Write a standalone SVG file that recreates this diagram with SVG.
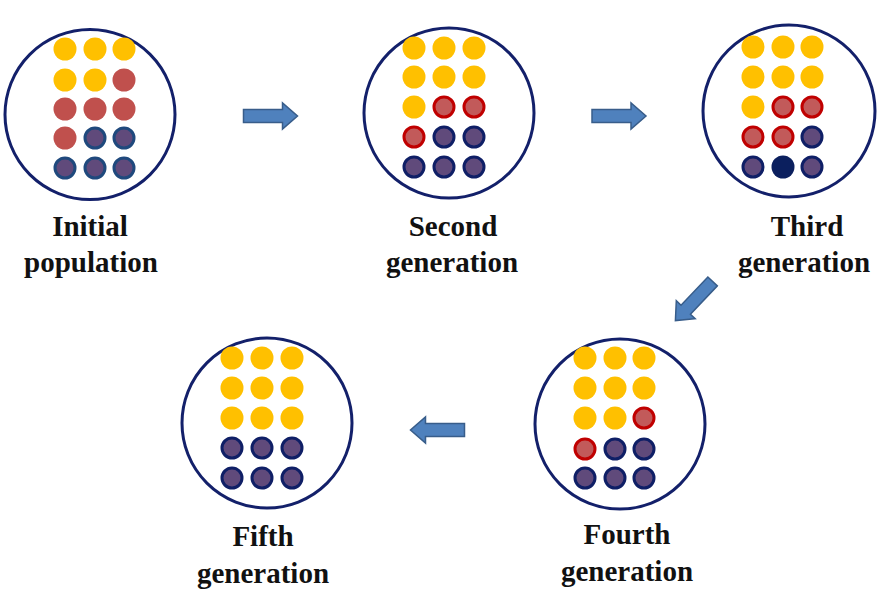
<svg xmlns="http://www.w3.org/2000/svg" width="880" height="601" viewBox="0 0 880 601">
<defs>
<style>
.ring{fill:#fff;stroke:#13206a;stroke-width:3}
.y{fill:#FFC000}
.r1{fill:#C0504D}
.b1{fill:#604A7B;stroke:#1F497D;stroke-width:3}
.r{fill:#C25A5A;stroke:#C00000;stroke-width:3}
.b{fill:#604A7B;stroke:#0F1F66;stroke-width:3}
.n{fill:#0B1F5E}
.lbl{font-family:"Liberation Serif","Times New Roman",serif;font-weight:bold;font-size:29px;fill:#111;text-anchor:middle}
.arr{fill:#4F81BD;stroke:#385D8A;stroke-width:1.5}
</style>
<path id="a" d="M-27,-6.5 H12 V-13 L27,0 L12,13 V6.5 H-27 Z"/>
</defs>
<rect width="880" height="601" fill="#fff"/>
<g id="connectors">
<use href="#a" class="arr" transform="translate(270.5,116)"/>
<use href="#a" class="arr" transform="translate(619,116)"/>
<use href="#a" class="arr" transform="translate(694,301) rotate(133.5)"/>
<use href="#a" class="arr" transform="translate(437.5,430) rotate(180)"/>
</g>
<g id="initial">
<circle class="ring" cx="90" cy="114.5" r="85"/>
<circle class="y" cx="65" cy="49" r="11.5"/><circle class="y" cx="95" cy="49" r="11.5"/><circle class="y" cx="124" cy="49" r="11.5"/>
<circle class="y" cx="65" cy="80" r="11.5"/><circle class="y" cx="95" cy="80" r="11.5"/><circle class="r1" cx="124" cy="80" r="11.5"/>
<circle class="r1" cx="65" cy="109" r="11.5"/><circle class="r1" cx="95" cy="109" r="11.5"/><circle class="r1" cx="124" cy="109" r="11.5"/>
<circle class="r1" cx="65" cy="138" r="11.5"/><circle class="b1" cx="95" cy="138" r="10"/><circle class="b1" cx="124" cy="138" r="10"/>
<circle class="b1" cx="65" cy="168" r="10"/><circle class="b1" cx="95" cy="168" r="10"/><circle class="b1" cx="124" cy="168" r="10"/>
<text class="lbl" x="90" y="236">Initial</text>
<text class="lbl" x="91" y="272">population</text>
</g>
<g id="second">
<circle class="ring" cx="449" cy="113" r="85"/>
<circle class="y" cx="414" cy="48" r="11.5"/><circle class="y" cx="444" cy="48" r="11.5"/><circle class="y" cx="474" cy="48" r="11.5"/>
<circle class="y" cx="414" cy="77" r="11.5"/><circle class="y" cx="444" cy="77" r="11.5"/><circle class="y" cx="474" cy="77" r="11.5"/>
<circle class="y" cx="414" cy="107" r="11.5"/><circle class="r" cx="444" cy="107" r="10"/><circle class="r" cx="474" cy="107" r="10"/>
<circle class="r" cx="414" cy="137" r="10"/><circle class="b" cx="444" cy="137" r="10"/><circle class="b" cx="474" cy="137" r="10"/>
<circle class="b" cx="414" cy="167" r="10"/><circle class="b" cx="444" cy="167" r="10"/><circle class="b" cx="474" cy="167" r="10"/>
<text class="lbl" x="453" y="236">Second</text>
<text class="lbl" x="452" y="272">generation</text>
</g>
<g id="third">
<circle class="ring" cx="789" cy="111" r="86"/>
<circle class="y" cx="753" cy="47" r="11.5"/><circle class="y" cx="783" cy="47" r="11.5"/><circle class="y" cx="812" cy="47" r="11.5"/>
<circle class="y" cx="753" cy="77" r="11.5"/><circle class="y" cx="783" cy="77" r="11.5"/><circle class="y" cx="812" cy="77" r="11.5"/>
<circle class="y" cx="753" cy="107" r="11.5"/><circle class="r" cx="783" cy="107" r="10"/><circle class="r" cx="812" cy="107" r="10"/>
<circle class="r" cx="753" cy="137" r="10"/><circle class="r" cx="783" cy="137" r="10"/><circle class="b" cx="812" cy="137" r="10"/>
<circle class="b" cx="753" cy="167" r="10"/><circle class="n" cx="783" cy="167" r="11.5"/><circle class="b" cx="812" cy="167" r="10"/>
<text class="lbl" x="807" y="236">Third</text>
<text class="lbl" x="804" y="272">generation</text>
</g>
<g id="fourth">
<circle class="ring" cx="620" cy="424" r="85"/>
<circle class="y" cx="585" cy="358" r="11.5"/><circle class="y" cx="615" cy="358" r="11.5"/><circle class="y" cx="644" cy="358" r="11.5"/>
<circle class="y" cx="585" cy="388" r="11.5"/><circle class="y" cx="615" cy="388" r="11.5"/><circle class="y" cx="644" cy="388" r="11.5"/>
<circle class="y" cx="585" cy="418" r="11.5"/><circle class="y" cx="615" cy="418" r="11.5"/><circle class="r" cx="644" cy="418" r="10"/>
<circle class="r" cx="585" cy="449" r="10"/><circle class="b" cx="615" cy="449" r="10"/><circle class="b" cx="644" cy="449" r="10"/>
<circle class="b" cx="585" cy="478" r="10"/><circle class="b" cx="615" cy="478" r="10"/><circle class="b" cx="644" cy="478" r="10"/>
<text class="lbl" x="627" y="544">Fourth</text>
<text class="lbl" x="627" y="581">generation</text>
</g>
<g id="fifth">
<circle class="ring" cx="267" cy="423" r="85"/>
<circle class="y" cx="232" cy="358" r="11.5"/><circle class="y" cx="262" cy="358" r="11.5"/><circle class="y" cx="292" cy="358" r="11.5"/>
<circle class="y" cx="232" cy="388" r="11.5"/><circle class="y" cx="262" cy="388" r="11.5"/><circle class="y" cx="292" cy="388" r="11.5"/>
<circle class="y" cx="232" cy="418" r="11.5"/><circle class="y" cx="262" cy="418" r="11.5"/><circle class="y" cx="292" cy="418" r="11.5"/>
<circle class="b" cx="232" cy="448" r="10"/><circle class="b" cx="262" cy="448" r="10"/><circle class="b" cx="292" cy="448" r="10"/>
<circle class="b" cx="232" cy="478" r="10"/><circle class="b" cx="262" cy="478" r="10"/><circle class="b" cx="292" cy="478" r="10"/>
<text class="lbl" x="263" y="546">Fifth</text>
<text class="lbl" x="263" y="583">generation</text>
</g>
</svg>
